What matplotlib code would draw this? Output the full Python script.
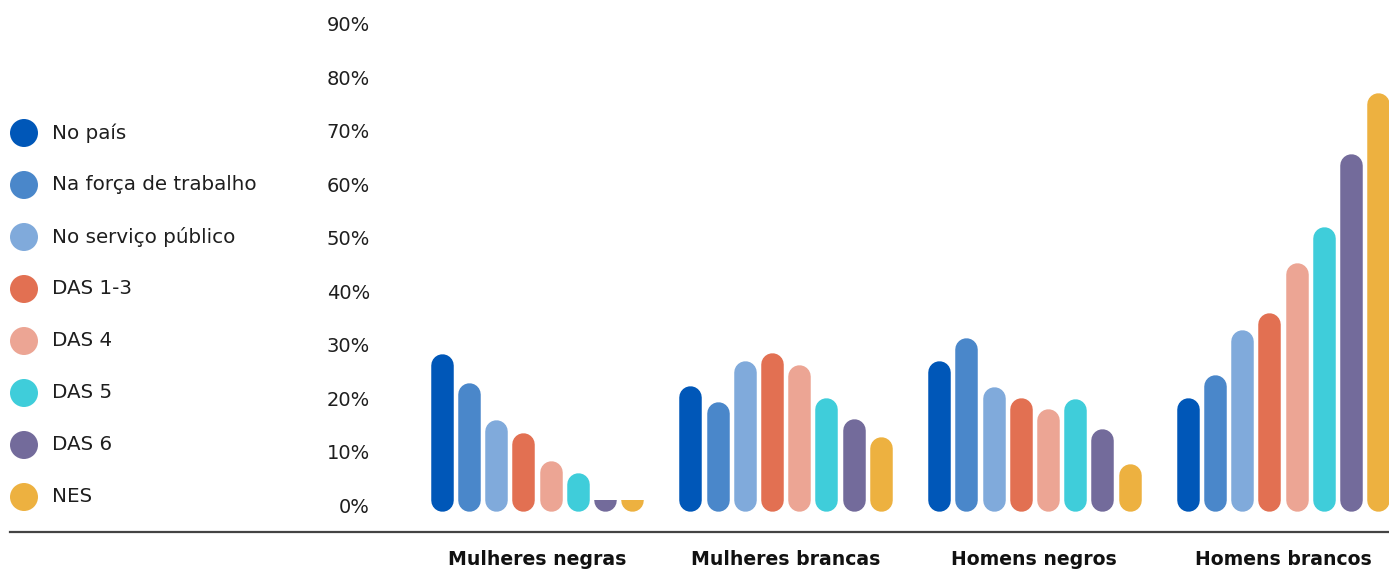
import numpy as np
import matplotlib
matplotlib.use('Agg')
import matplotlib.pyplot as plt
from matplotlib.patches import Rectangle
from matplotlib.lines import Line2D


# THE DATA ***********************************************************************

groups = ['Mulheres negras', 'Mulheres brancas', 'Homens negros', 'Homens brancos']

series_names = ['No país', 'Na força de trabalho', 'No serviço público',
                'DAS 1-3', 'DAS 4', 'DAS 5', 'DAS 6', 'NES']

# share of each group (%) for every level, in the order of the groups above
no_pais = [28.3, 22.4, 27.0, 20.1]
forca_trabalho = [22.8, 19.3, 31.3, 24.3]
servico_publico = [15.9, 26.9, 22.1, 32.7]
das_1_3 = [13.5, 28.5, 20.1, 36.0]
das_4 = [8.3, 26.2, 18.0, 45.3]
das_5 = [6.0, 20.1, 19.8, 52.0]
das_6 = [1.0, 16.1, 14.2, 65.8]
nes = [1.0, 12.8, 7.7, 77.1]

series = [no_pais, forca_trabalho, servico_publico, das_1_3, das_4, das_5, das_6, nes]

colors = ['#0057b8', '#4a87ca', '#80aadb', '#e27052', '#eca594', '#3fcdda', '#736b9b', '#edb140']

y_ticks = list(range(0, 100, 10))


# THE CHART **********************************************************************

W, H = 1389, 581
fig = plt.figure(figsize=(W / 100, H / 100), dpi=100, facecolor='w')

# plotting area: pixel x 380..1389, pixel y 5..532
ax = fig.add_axes([380 / W, (H - 532) / H, (W - 380) / W, 527 / H])
ax.set_xlim(-0.631, 3.426)
ax.set_ylim(-5.05, 93.55)

step = 0.1094        # distance between bars inside a group
bar_px = 22.5        # bar width in pixels
base = -1.2          # bars start a little under the zero line

px_per_y = ax.transData.transform((0, 1))[1] - ax.transData.transform((0, 0))[1]
r_y = (bar_px / 2) / px_per_y          # cap radius in y units
bar_lw = bar_px * 72 / fig.dpi          # line width in points

x = np.arange(len(groups))
for j, (vals, color) in enumerate(zip(series, colors)):
    xs = x + (j - 3.5) * step
    for xi, val in zip(xs, vals):
        lo = base + r_y
        hi = max(val - r_y, lo + 1)
        line, = ax.plot([xi, xi], [lo, hi], color=color, lw=bar_lw,
                        solid_capstyle='round', zorder=3)
        # cut short bars at their value so they show only the rounded bottom
        clip = Rectangle((xi - step, base - r_y), 2 * step, val - base + r_y,
                         transform=ax.transData)
        line.set_clip_path(clip)

# y axis labels
ax.set_yticks(y_ticks)
ax.set_yticklabels([f'{t}%' for t in y_ticks])
ax.tick_params(axis='y', length=0, pad=7.2, labelsize=14, labelcolor='#1e1e1e')

# group names
ax.set_xticks(x)
ax.set_xticklabels(groups, fontweight='bold')
ax.tick_params(axis='x', length=0, pad=13, labelsize=13.6, labelcolor='#111111')

plt.setp(ax.spines.values(), visible=False)

# horizontal rule across the whole figure
fig.add_artist(Line2D([10 / W, 1], [(H - 532) / H] * 2, color='#444444', lw=1.6))

# legend on the left
lax = fig.add_axes([0, (H - 523) / H, 380 / W, 416 / H])
lax.set_xlim(0, 380)
lax.set_ylim(7.5, -0.5)
lax.axis('off')
for k, (name, color) in enumerate(zip(series_names, colors)):
    lax.scatter(24, k, s=(28 * 72 / fig.dpi) ** 2, color=color, edgecolors='none')
    lax.text(52, k, name, fontsize=14.3, color='#1e1e1e', va='center', ha='left')

plt.savefig('out.png', dpi=100, facecolor='w')
